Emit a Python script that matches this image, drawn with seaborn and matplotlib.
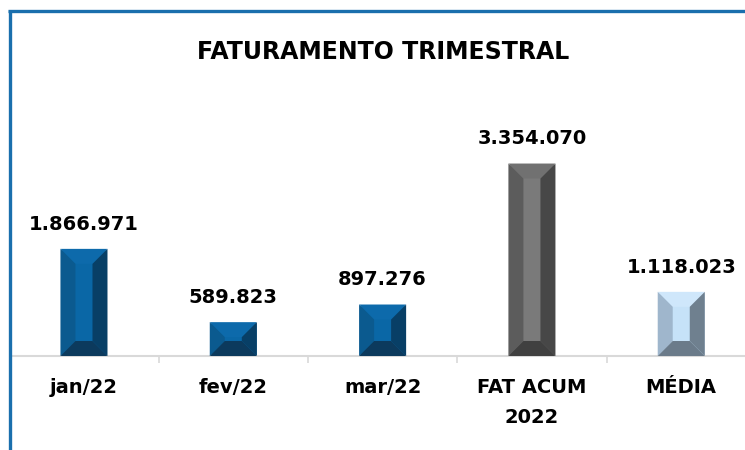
import numpy as np
import pandas as pd
import matplotlib
matplotlib.use("Agg")
import matplotlib.pyplot as plt
from matplotlib.patches import Polygon
from matplotlib.lines import Line2D
import seaborn as sns

# dados do gráfico
categorias = ["jan/22", "fev/22", "mar/22", "FAT ACUM\n2022", "MÉDIA"]
valores = [1866971, 589823, 897276, 3354070, 1118023]

# cores do chanfro: topo, esquerda, face, direita, base
azul = ("#0d6aab", "#0b5a8f", "#0a67a6", "#083f66", "#0c3a5d")
cinza = ("#717171", "#5c5c5c", "#7a7a7a", "#474747", "#404040")
claro = ("#cfe7fb", "#9fb6cc", "#c6e2f8", "#6f808f", "#6b7b8a")
cores = [azul, azul, azul, cinza, claro]

sns.set_theme(style="white")
plt.rcParams["font.family"] = ["DejaVu Sans"]

df = pd.DataFrame({"cat": categorias, "valor": valores})

fig = plt.figure(figsize=(7.45, 4.5), dpi=100)
ax = fig.add_axes([12 / 745, 94 / 450, 733 / 745, 0.57])

sns.barplot(data=df, x="cat", y="valor", order=categorias, hue="cat",
            palette=[c[2] for c in cores], width=0.315, legend=False,
            saturation=1, ax=ax)

xmin, xmax = -0.482, 4.427
ymax = 4.47e6
ax.set_xlim(xmin, xmax)
ax.set_ylim(0, ymax)

# chanfro de ~15 px convertido para unidades de dados
fig.canvas.draw()
bb = ax.get_window_extent()
bx = 15 * (xmax - xmin) / bb.width
by_ = 15 * ymax / bb.height

for bar, c in zip(ax.patches, cores):
    x0 = bar.get_x()
    x1 = x0 + bar.get_width()
    h = bar.get_height()
    d = min(by_, h / 2)
    ix0, ix1 = x0 + bx, x1 - bx
    iy0, iy1 = d, h - d
    polys = [
        ([(x0, h), (x1, h), (ix1, iy1), (ix0, iy1)], c[0]),
        ([(x0, 0), (x0, h), (ix0, iy1), (ix0, iy0)], c[1]),
        ([(x1, 0), (x1, h), (ix1, iy1), (ix1, iy0)], c[3]),
        ([(x0, 0), (x1, 0), (ix1, iy0), (ix0, iy0)], c[4]),
    ]
    for pts, col in polys:
        ax.add_patch(Polygon(pts, closed=True, facecolor=col, edgecolor="none", zorder=3))
    ax.annotate(f"{h:,.0f}".replace(",", "."), (bar.get_x() + bar.get_width() / 2, h),
                xytext=(0, 11), textcoords="offset points", ha="center", va="bottom",
                fontsize=14, fontweight="bold", color="black")

for s in ["top", "right", "left"]:
    ax.spines[s].set_visible(False)
ax.spines["bottom"].set_color("#d9d9d9")
ax.spines["bottom"].set_linewidth(1.5)
ax.set_yticks([])
ax.set_xlabel("")
ax.set_ylabel("")
ax.set_xticks(range(len(categorias)))
ax.set_xticklabels(categorias, fontsize=14, fontweight="bold", color="black",
                   linespacing=1.75)
ax.tick_params(axis="x", which="major", length=0, pad=16)
# marcas entre categorias
ax.set_xticks(np.arange(len(categorias) - 1) + 0.5, minor=True)
ax.tick_params(axis="x", which="minor", bottom=True, length=5, width=1.2,
               color="#d9d9d9", direction="out")

fig.text(383 / 745, 1 - 52 / 450, "FATURAMENTO TRIMESTRAL", ha="center", va="center",
         fontsize=17, fontweight="bold", color="black")

# moldura azul
fig.add_artist(Line2D([9.5 / 745, 9.5 / 745], [0, 1 - 9.5 / 450],
                      transform=fig.transFigure, color="#1a6fad", linewidth=2.4,
                      solid_capstyle="butt"))
fig.add_artist(Line2D([8 / 745, 1], [1 - 11 / 450, 1 - 11 / 450],
                      transform=fig.transFigure, color="#1a6fad", linewidth=2.4,
                      solid_capstyle="butt"))

fig.savefig("out.png", dpi=100)
